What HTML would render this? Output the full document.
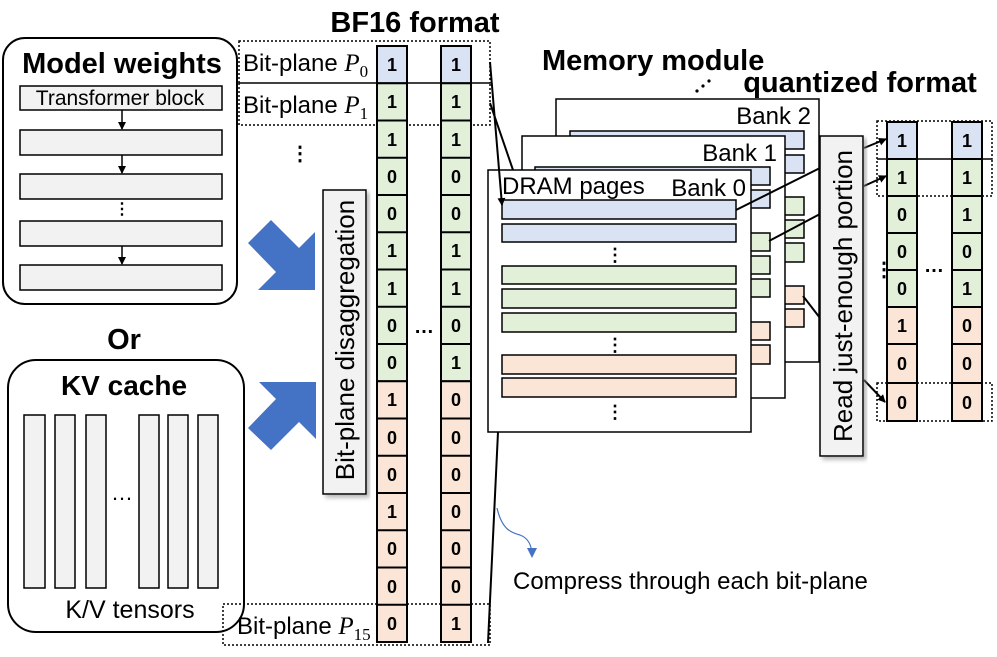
<!DOCTYPE html>
<html><head><meta charset="utf-8"><style>
html,body{margin:0;padding:0;background:#fff;}
svg{display:block;font-family:"Liberation Sans",Arial,sans-serif;}
.b{font-weight:bold;}
</style></head><body>
<svg width="997" height="657" viewBox="0 0 997 657" xmlns="http://www.w3.org/2000/svg">
<defs>
<marker id="ah" markerWidth="8" markerHeight="8" refX="7" refY="4" orient="auto" markerUnits="userSpaceOnUse"><path d="M0,0 L8,4 L0,8 z" fill="#000"/></marker>
<marker id="ahb" markerWidth="10" markerHeight="10" refX="8" refY="5" orient="auto" markerUnits="userSpaceOnUse"><path d="M0,0 L10,5 L0,10 z" fill="#4472c4"/></marker>
<filter id="sh"><feDropShadow dx="3" dy="3" stdDeviation="2" flood-color="#888" flood-opacity="0.6"/></filter>
</defs>

<!-- Model weights -->
<rect x="3" y="38" width="234" height="266" rx="22" fill="#fff" stroke="#000" stroke-width="2"/>
<text x="122" y="73" text-anchor="middle" class="b" font-size="29">Model weights</text>
<rect x="20" y="86" width="202" height="24" fill="#f2f2f2" stroke="#000" stroke-width="1.5"/>
<text x="120" y="105" text-anchor="middle" font-size="21">Transformer block</text>
<rect x="20" y="130" width="202" height="25" fill="#f2f2f2" stroke="#000" stroke-width="1.5"/>
<rect x="20" y="174" width="202" height="25" fill="#f2f2f2" stroke="#000" stroke-width="1.5"/>
<rect x="20" y="221" width="202" height="25" fill="#f2f2f2" stroke="#000" stroke-width="1.5"/>
<rect x="20" y="265" width="202" height="25" fill="#f2f2f2" stroke="#000" stroke-width="1.5"/>
<g stroke="#000" stroke-width="1.5">
<line x1="122" y1="110" x2="122" y2="129" marker-end="url(#ah)"/>
<line x1="122" y1="155" x2="122" y2="173" marker-end="url(#ah)"/>
<line x1="122" y1="246" x2="122" y2="264" marker-end="url(#ah)"/>
</g>
<text x="122" y="214" text-anchor="middle" class="b" font-size="16">⋮</text>

<text x="124" y="349" text-anchor="middle" class="b" font-size="29">Or</text>

<!-- KV cache -->
<rect x="8" y="360" width="236" height="272" rx="28" fill="#fff" stroke="#000" stroke-width="2"/>
<text x="124" y="395" text-anchor="middle" class="b" font-size="28">KV cache</text>
<g fill="#f2f2f2" stroke="#000" stroke-width="1.5">
<rect x="24" y="415" width="21" height="173"/><rect x="55" y="415" width="20" height="173"/><rect x="86" y="415" width="20" height="173"/>
<rect x="139" y="415" width="20" height="173"/><rect x="168" y="415" width="20" height="173"/><rect x="198" y="415" width="20" height="173"/>
</g>
<text x="122" y="500" text-anchor="middle" font-size="22">…</text>
<text x="130" y="618" text-anchor="middle" font-size="25">K/V tensors</text>

<!-- blue arrows -->
<polygon points="248,243 271,220 299,248 315,232 315,290 258,290 276,272" fill="#4472c4"/>
<polygon points="248,428 271,450 299,422 316,439 316,382 259,382 276,399" fill="#4472c4"/>

<!-- disaggregation box -->
<rect x="323" y="190" width="43" height="304" fill="#f2f2f2" stroke="#000" stroke-width="1.5" filter="url(#sh)"/>
<text transform="translate(354,340) rotate(-90)" text-anchor="middle" font-size="26">Bit-plane disaggregation</text>

<!-- BF16 -->
<text x="415" y="32" text-anchor="middle" class="b" font-size="29">BF16 format</text>
<g fill="none" stroke="#000" stroke-width="1.5" stroke-dasharray="2,2">
<rect x="239" y="41" width="251" height="42"/>
<rect x="239" y="83" width="251" height="42"/>
<rect x="223" y="604" width="267" height="41"/>
</g>
<text x="243" y="71" font-size="24">Bit-plane <tspan font-family="Liberation Serif" font-style="italic" font-size="25">P</tspan><tspan font-family="Liberation Serif" font-size="17" dy="6">0</tspan></text>
<text x="243" y="113" font-size="24">Bit-plane <tspan font-family="Liberation Serif" font-style="italic" font-size="25">P</tspan><tspan font-family="Liberation Serif" font-size="17" dy="6">1</tspan></text>
<text x="237" y="634" font-size="24">Bit-plane <tspan font-family="Liberation Serif" font-style="italic" font-size="25">P</tspan><tspan font-family="Liberation Serif" font-size="17" dy="6">15</tspan></text>
<text x="300" y="160" text-anchor="middle" class="b" font-size="20">⋮</text>
<text x="424" y="333" text-anchor="middle" class="b" font-size="20">…</text>

<g stroke="#000" stroke-width="2">
<rect x="377" y="46" width="30" height="37.25" fill="#dae3f3"/>
<rect x="377" y="83.25" width="30" height="298" fill="#e2f0d9"/>
<rect x="377" y="381.25" width="30" height="260.75" fill="#fbe5d6"/>
<rect x="441" y="46" width="30" height="37.25" fill="#dae3f3"/>
<rect x="441" y="83.25" width="30" height="298" fill="#e2f0d9"/>
<rect x="441" y="381.25" width="30" height="260.75" fill="#fbe5d6"/>
<path d="M377,120.5h30M377,157.75h30M377,195h30M377,232.25h30M377,269.5h30M377,306.75h30M377,344h30M377,418.5h30M377,455.75h30M377,493h30M377,530.25h30M377,567.5h30M377,604.75h30"/>
<path d="M441,120.5h30M441,157.75h30M441,195h30M441,232.25h30M441,269.5h30M441,306.75h30M441,344h30M441,418.5h30M441,455.75h30M441,493h30M441,530.25h30M441,567.5h30M441,604.75h30"/>
</g>
<g font-size="18" font-weight="bold" text-anchor="middle">
<text x="392" y="71">1</text><text x="392" y="108">1</text><text x="392" y="146">1</text><text x="392" y="183">0</text><text x="392" y="220">0</text><text x="392" y="257">1</text><text x="392" y="295">1</text><text x="392" y="332">0</text><text x="392" y="369">0</text><text x="392" y="406">1</text><text x="392" y="444">0</text><text x="392" y="481">0</text><text x="392" y="518">1</text><text x="392" y="555">0</text><text x="392" y="593">0</text><text x="392" y="630">0</text>
<text x="456" y="71">1</text><text x="456" y="108">1</text><text x="456" y="146">1</text><text x="456" y="183">0</text><text x="456" y="220">0</text><text x="456" y="257">1</text><text x="456" y="295">1</text><text x="456" y="332">0</text><text x="456" y="369">1</text><text x="456" y="406">0</text><text x="456" y="444">0</text><text x="456" y="481">0</text><text x="456" y="518">0</text><text x="456" y="555">0</text><text x="456" y="593">0</text><text x="456" y="630">1</text>
</g>

<!-- Memory module -->
<text x="542" y="70" class="b" font-size="29">Memory module</text>
<text x="860" y="92" text-anchor="middle" class="b" font-size="29">quantized format</text>
<g fill="#000"><circle cx="697" cy="91" r="1.6"/><circle cx="703" cy="86" r="1.6"/><circle cx="709" cy="81" r="1.6"/></g>

<g stroke="#000" stroke-width="1.5">
<rect x="556" y="99" width="263" height="263" fill="#fff"/>
<rect x="570" y="131" width="234" height="18" fill="#dae3f3"/><rect x="570" y="155" width="234" height="18" fill="#dae3f3"/>
<rect x="570" y="197" width="234" height="18" fill="#e2f0d9"/><rect x="570" y="220" width="234" height="18" fill="#e2f0d9"/><rect x="570" y="243" width="234" height="19" fill="#e2f0d9"/>
<rect x="570" y="286" width="234" height="18" fill="#fbe5d6"/><rect x="570" y="309" width="234" height="18" fill="#fbe5d6"/>
<rect x="522" y="136" width="263" height="262" fill="#fff"/>
<rect x="535" y="167" width="235" height="18" fill="#dae3f3"/><rect x="535" y="190" width="235" height="18" fill="#dae3f3"/>
<rect x="535" y="233" width="235" height="18" fill="#e2f0d9"/><rect x="535" y="256" width="235" height="18" fill="#e2f0d9"/><rect x="535" y="279" width="235" height="18" fill="#e2f0d9"/>
<rect x="535" y="322" width="235" height="18" fill="#fbe5d6"/><rect x="535" y="345" width="235" height="19" fill="#fbe5d6"/>
<rect x="488" y="170" width="263" height="262" fill="#fff"/>
<rect x="502" y="200" width="234" height="19" fill="#dae3f3"/><rect x="502" y="224" width="234" height="18" fill="#dae3f3"/>
<rect x="502" y="266" width="234" height="18" fill="#e2f0d9"/><rect x="502" y="289" width="234" height="19" fill="#e2f0d9"/><rect x="502" y="313" width="234" height="19" fill="#e2f0d9"/>
<rect x="502" y="355" width="234" height="19" fill="#fbe5d6"/><rect x="502" y="378" width="234" height="19" fill="#fbe5d6"/>
</g>
<text x="811" y="124" text-anchor="end" font-size="24">Bank 2</text>
<text x="777" y="161" text-anchor="end" font-size="24">Bank 1</text>
<text x="746" y="196" text-anchor="end" font-size="24">Bank 0</text>
<text x="502" y="194" font-size="24">DRAM pages</text>
<g font-size="18" font-weight="bold" text-anchor="middle">
<text x="615" y="261">⋮</text><text x="615" y="351">⋮</text><text x="615" y="418">⋮</text>
</g>

<g stroke="#000" stroke-width="2" fill="none">
<line x1="490" y1="62" x2="502" y2="205" marker-end="url(#ah)"/>
<line x1="490" y1="103" x2="513" y2="170"/>
<line x1="498" y1="432" x2="488" y2="643"/>
<line x1="736" y1="210" x2="820" y2="168"/>
<line x1="769" y1="241" x2="820" y2="214"/>
<line x1="803" y1="296" x2="820" y2="318"/>
<line x1="864" y1="148" x2="886" y2="139" marker-end="url(#ah)"/>
<line x1="864" y1="186" x2="886" y2="176" marker-end="url(#ah)"/>
<line x1="864" y1="380" x2="885" y2="402" marker-end="url(#ah)"/>
</g>
<path d="M497,508 C502,530 512,533 520,535 C528,538 532,545 532,556" fill="none" stroke="#4472c4" stroke-width="1.2" marker-end="url(#ahb)"/>
<text x="513" y="589" font-size="24">Compress through each bit-plane</text>

<rect x="820" y="136" width="43" height="320" fill="#f2f2f2" stroke="#000" stroke-width="1.5" filter="url(#sh)"/>
<text transform="translate(852,296) rotate(-90)" text-anchor="middle" font-size="26">Read just-enough portion</text>

<g stroke="#000" stroke-width="2">
<rect x="887" y="122" width="30" height="37" fill="#dae3f3"/><rect x="952" y="122" width="30" height="37" fill="#dae3f3"/>
<rect x="887" y="159" width="30" height="148" fill="#e2f0d9"/><rect x="952" y="159" width="30" height="148" fill="#e2f0d9"/>
<rect x="887" y="307" width="30" height="114" fill="#fbe5d6"/><rect x="952" y="307" width="30" height="114" fill="#fbe5d6"/>
<path d="M887,196h30M887,233h30M887,270h30M887,344h30M887,383h30M952,196h30M952,233h30M952,270h30M952,344h30M952,383h30"/>
</g>
<g fill="none" stroke="#000" stroke-width="1.5" stroke-dasharray="2,2">
<rect x="877" y="121" width="115" height="38"/><rect x="877" y="159" width="115" height="37"/><rect x="877" y="383" width="115" height="38"/>
</g>
<g font-size="18" font-weight="bold" text-anchor="middle">
<text x="902" y="147">1</text><text x="902" y="184">1</text><text x="902" y="221">0</text><text x="902" y="258">0</text><text x="902" y="295">0</text><text x="902" y="332">1</text><text x="902" y="370">0</text><text x="902" y="409">0</text>
<text x="967" y="147">1</text><text x="967" y="184">1</text><text x="967" y="221">1</text><text x="967" y="258">0</text><text x="967" y="295">1</text><text x="967" y="332">0</text><text x="967" y="370">0</text><text x="967" y="409">0</text>
</g>
<text x="874" y="276" font-size="20" font-weight="bold">⋮</text>
<text x="934" y="272" text-anchor="middle" font-size="20" font-weight="bold">…</text>
</svg>
</body></html>
